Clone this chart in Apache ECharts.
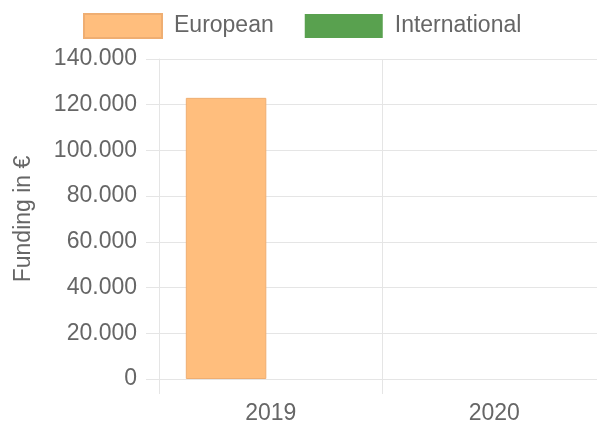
<!DOCTYPE html>
<html>
<head>
<meta charset="utf-8">
<script src="https://cdn.jsdelivr.net/npm/echarts@6/dist/echarts.min.js"></script>
<style>
html,body{margin:0;padding:0;background:#fff;overflow:hidden;width:597px;height:425px;}
#chart{width:606px;height:425px;}
</style>
</head>
<body>
<div id="chart"></div>
<script>
const categories = ['2019', '2020'];
const seriesNames = ['European', 'International'];
const europeanValues = [123000, 0];
const internationalValues = [0, 0];
const yTicks = [0, 20000, 40000, 60000, 80000, 100000, 120000, 140000];
const yAxisTitle = 'Funding in €';

function fmt(v) {
  return String(Math.round(v)).replace(/\B(?=(\d{3})+(?!\d))/g, '.');
}
function toItems(arr) {
  return arr.map(v => v ? v : {value: v, itemStyle: {borderWidth: 0}});
}

const textColor = '#666666';
const gridColor = '#e5e5e5';
const font = 'Liberation Sans, Arial, Helvetica, sans-serif';

const chart = echarts.init(document.getElementById('chart'), null, {renderer: 'canvas'});
chart.setOption({
  animation: false,
  backgroundColor: '#ffffff',
  legend: {
    left: 78,
    top: 8,
    itemWidth: 78,
    itemHeight: 24,
    itemGap: 31,
    icon: 'rect',
    data: seriesNames,
    textStyle: {color: textColor, fontSize: 23, fontFamily: font, padding: [0, 0, 0, 7]}
  },
  grid: {left: 159, right: 0, top: 59, bottom: 45, containLabel: false},
  xAxis: {
    type: 'category',
    data: categories,
    axisLine: {show: true, lineStyle: {color: gridColor, width: 1}},
    axisTick: {show: true, length: 15, lineStyle: {color: gridColor}},
    splitLine: {show: true, lineStyle: {color: gridColor}},
    axisLabel: {color: textColor, fontSize: 23, fontFamily: font, margin: 23}
  },
  yAxis: {
    type: 'value',
    min: yTicks[0],
    max: yTicks[yTicks.length - 1],
    interval: yTicks[1] - yTicks[0],
    name: yAxisTitle,
    nameLocation: 'middle',
    nameRotate: 90,
    nameGap: 124,
    nameTextStyle: {color: textColor, fontSize: 23, fontFamily: font},
    axisLine: {show: true, lineStyle: {color: gridColor}},
    axisTick: {show: true, length: 13, lineStyle: {color: gridColor}},
    splitLine: {show: true, lineStyle: {color: gridColor}},
    axisLabel: {color: textColor, fontSize: 23, fontFamily: font, margin: 22, formatter: fmt}
  },
  series: [
    {
      name: seriesNames[0],
      type: 'bar',
      data: toItems(europeanValues),
      barGap: '11%',
      barCategoryGap: '24%',
      itemStyle: {color: '#FFBE7D', borderColor: '#EFAE72', borderWidth: 1}
    },
    {
      name: seriesNames[1],
      type: 'bar',
      data: toItems(internationalValues),
      itemStyle: {color: '#59A14F', borderColor: '#4F9646', borderWidth: 0}
    }
  ]
});
</script>
</body>
</html>
